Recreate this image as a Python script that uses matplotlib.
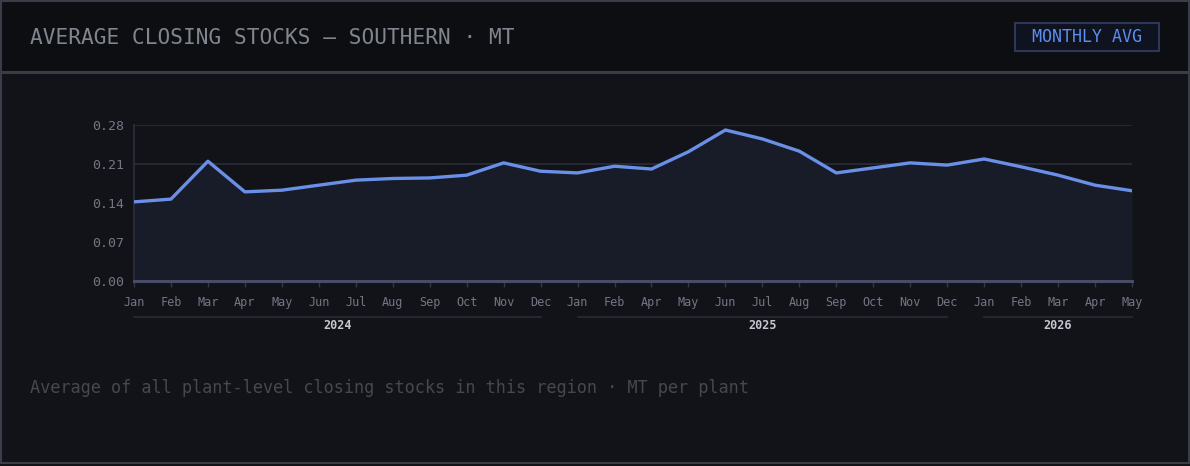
import matplotlib
matplotlib.use("Agg")
import matplotlib.pyplot as plt
from matplotlib.patches import Rectangle
import matplotlib.transforms as mtransforms

# data
months = ["Jan", "Feb", "Mar", "Apr", "May", "Jun", "Jul", "Aug", "Sep", "Oct", "Nov", "Dec",
          "Jan", "Feb", "Apr", "May", "Jun", "Jul", "Aug", "Sep", "Oct", "Nov", "Dec",
          "Jan", "Feb", "Mar", "Apr", "May"]
years = [2024] * 12 + [2025] * 11 + [2026] * 5
avg_stock = [0.142, 0.147, 0.215, 0.160, 0.163, 0.172, 0.181, 0.184, 0.185, 0.190, 0.212, 0.197,
             0.194, 0.206, 0.201, 0.232, 0.271, 0.255, 0.233, 0.194, 0.203, 0.212, 0.208,
             0.219, 0.205, 0.190, 0.172, 0.162]
y_ticks = [0.00, 0.07, 0.14, 0.21, 0.28]

title = "AVERAGE CLOSING STOCKS \u2014 SOUTHERN \u00b7 MT"
badge = "MONTHLY AVG"
footnote = "Average of all plant-level closing stocks in this region \u00b7 MT per plant"

W, H = 1190, 466
MONO = "DejaVu Sans Mono"

fig = plt.figure(figsize=(W / 100, H / 100), dpi=100)
fig.patch.set_facecolor("#121319")


def fx(x):
    return x / W


def fy(y):
    return 1 - y / H


def rect(x0, y0, x1, y1, **kw):
    r = Rectangle((fx(x0), fy(y1)), fx(x1) - fx(x0), fy(y0) - fy(y1),
                  transform=fig.transFigure, **kw)
    fig.add_artist(r)
    return r


# header band + separator + outer frame
rect(0, 0, W, 72, facecolor="#0d0e12", edgecolor="none", zorder=0)
rect(0, 71.5, W, 73.5, facecolor="#3a3c4a", edgecolor="none", zorder=1)
rect(1, 1, W - 1, 463, facecolor="none", edgecolor="#3a3c48", linewidth=1.5, zorder=5)

fig.text(fx(30), fy(38), title, family=MONO, fontsize=15.2, color="#80858f",
         ha="left", va="center")

rect(1015, 22.5, 1159, 50.5, facecolor="#0f1320", edgecolor="#2e3856", linewidth=1.5, zorder=2)
fig.text(fx(1087), fy(37), badge, family=MONO, fontsize=12, color="#5b8def",
         ha="center", va="center", zorder=3)

fig.text(fx(30), fy(388), footnote, family=MONO, fontsize=12.2, color="#45484f",
         ha="left", va="center")

# plot area
ax = fig.add_axes([fx(134), fy(281), fx(1132) - fx(134), fy(125) - fy(281)])
ax.set_facecolor("none")
x = list(range(len(avg_stock)))
ax.fill_between(x, avg_stock, 0, color="#181b28", zorder=1, linewidth=0)
ax.plot(x, avg_stock, color="#6a8fe6", linewidth=2.4, solid_joinstyle="round", zorder=3)

ax.set_xlim(0, len(x) - 1)
ax.set_ylim(0, 0.28)
ax.set_yticks(y_ticks)
ax.set_yticklabels(["%.2f" % v for v in y_ticks])
ax.grid(axis="y", color="#282a36", linewidth=1.3, zorder=0)
ax.set_axisbelow(True)

for s in ["top", "right"]:
    ax.spines[s].set_visible(False)
ax.spines["left"].set_color("#2c2f3d")
ax.spines["left"].set_linewidth(1.2)
ax.spines["bottom"].set_color("#484c64")
ax.spines["bottom"].set_linewidth(2.2)

ax.set_xticks(x)
ax.set_xticklabels(months)
ax.tick_params(axis="x", length=4, width=1, color="#33364a", pad=7,
               labelsize=8.5, labelcolor="#727684")
ax.tick_params(axis="y", length=0, pad=7, labelsize=9.5, labelcolor="#727684")
for lab in ax.get_xticklabels() + ax.get_yticklabels():
    lab.set_family(MONO)

# year grouping under the month labels
trans = mtransforms.blended_transform_factory(ax.transData, ax.transAxes)
for yr in sorted(set(years)):
    idx = [i for i, v in enumerate(years) if v == yr]
    ax.plot([idx[0], idx[-1]], [-0.231, -0.231], transform=trans, color="#262935",
            linewidth=1.3, clip_on=False)
    ax.text((idx[0] + idx[-1]) / 2, -0.285, str(yr), transform=trans, family=MONO,
            fontsize=8.5, fontweight="bold", color="#c4c7cf", ha="center", va="center")

fig.savefig("out.png", dpi=100, facecolor=fig.get_facecolor())
